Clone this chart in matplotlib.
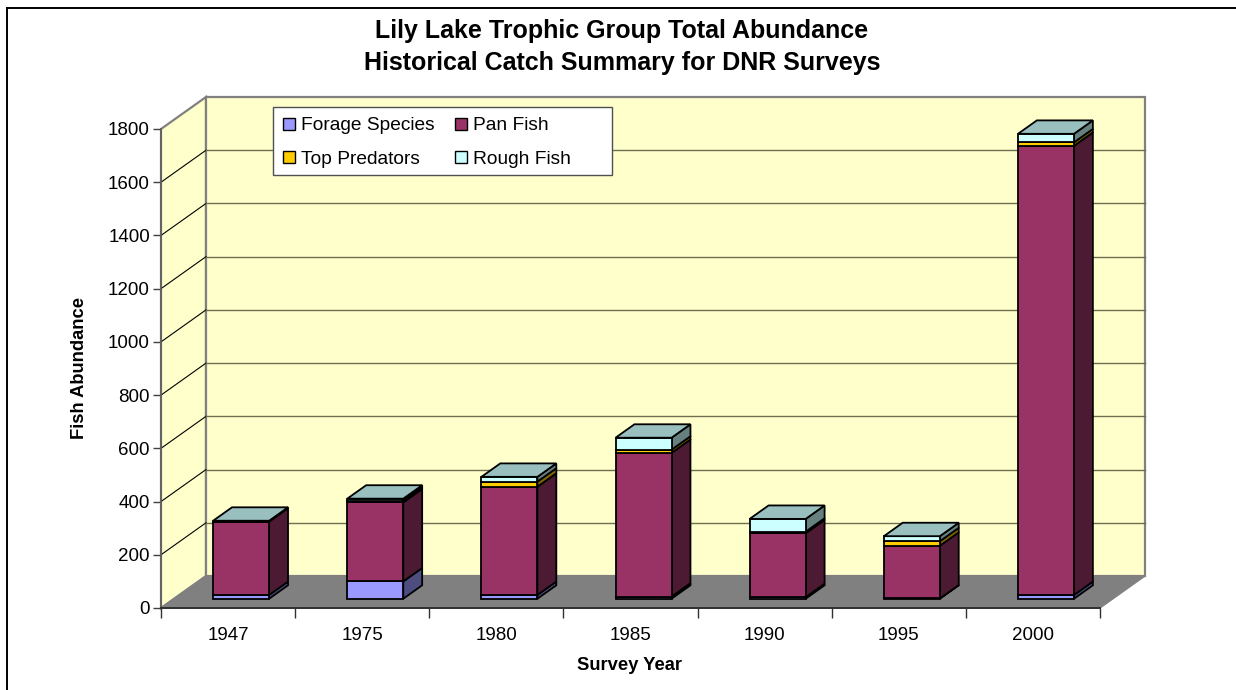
import numpy as np
import matplotlib
matplotlib.use("Agg")
import matplotlib.pyplot as plt
from matplotlib.lines import Line2D
from matplotlib.patches import Patch, Polygon, Rectangle

plt.rcParams["font.family"] = ["Liberation Sans", "DejaVu Sans"]

W, H = 1236, 690

years = ["1947", "1975", "1980", "1985", "1990", "1995", "2000"]
forage = [14, 65, 14, 8, 6, 1, 14]
pan = [276, 297, 407, 540, 240, 198, 1688]
top_pred = [2, 7, 19, 12, 6, 17, 13]
rough = [1, 7, 18, 45, 48, 19, 32]
y_ticks = [0, 200, 400, 600, 800, 1000, 1200, 1400, 1600, 1800]

series = [
    ("Forage Species", forage, "#9999FF"),
    ("Pan Fish", pan, "#993366"),
    ("Top Predators", top_pred, "#FFCC00"),
    ("Rough Fish", rough, "#CCFFFF"),
]

WALL = "#FFFFCC"
FLOOR = "#808080"
EDGE = "#808080"
BAR_W = 56 / 134.14

fig = plt.figure(figsize=(W / 100, H / 100), dpi=100, facecolor="white")
# only the top and left of the chart frame show in the picture
fig.add_artist(Line2D([6.5 / W, 1], [1 - 7.5 / H, 1 - 7.5 / H], color="black", lw=1.4))
fig.add_artist(Line2D([6.5 / W, 6.5 / W], [0, 1 - 7.5 / H], color="black", lw=1.4))

# axes is the front plane of the 3D box
ax = fig.add_axes([161 / W, 1 - 608 / H, (1100 - 161) / W, (608 - 129) / H])
ax.set_xlim(0, len(years))
ax.set_ylim(0, 1800)
ax.patch.set_visible(False)

# depth of the box, in data units
DX = 45 / (939 / 7)
DY = 32 / (479 / 1800)


def proj(x, y, d=0.0):
    return (x + d * DX, y + d * DY)


def face(pts, color, z, lw=1.3, ec="black"):
    ax.add_patch(Polygon(pts, closed=True, facecolor=color, edgecolor=ec, linewidth=lw,
                         clip_on=False, zorder=z, joinstyle="miter"))


def shade(color, f):
    rgb = np.array(matplotlib.colors.to_rgb(color)) * f
    return tuple(rgb)


n = len(years)
face([proj(0, 0), proj(0, 0, 1), proj(0, 1800, 1), proj(0, 1800)], WALL, 1, 1.6, EDGE)
face([proj(0, 0, 1), proj(n, 0, 1), proj(n, 1800, 1), proj(0, 1800, 1)], WALL, 1, 1.6, EDGE)
face([proj(0, 0), proj(n, 0), proj(n, 0, 1), proj(0, 0, 1)], FLOOR, 2, 1, FLOOR)

for t in y_ticks[1:-1]:
    ax.plot(*zip(proj(0, t), proj(0, t, 1)), color="black", lw=0.8, clip_on=False, zorder=3)
    ax.plot(*zip(proj(0, t, 1), proj(n, t, 1)), color="#6E6E50", lw=1.0, clip_on=False, zorder=3)

D0, D1 = 0.29, 0.71
for i in range(n):
    x0 = i + 0.5 - BAR_W / 2
    x1 = i + 0.5 + BAR_W / 2
    base = 0
    z = 5 + i
    for label, vals, color in series:
        top = base + vals[i]
        # side face, then front face
        face([proj(x1, base, D0), proj(x1, base, D1), proj(x1, top, D1), proj(x1, top, D0)],
             shade(color, 0.5), z)
        face([proj(x0, base, D0), proj(x1, base, D0), proj(x1, top, D0), proj(x0, top, D0)],
             color, z)
        base = top
    face([proj(x0, base, D0), proj(x1, base, D0), proj(x1, base, D1), proj(x0, base, D1)],
         shade(series[-1][2], 0.75), z)

for s in ["top", "right"]:
    ax.spines[s].set_visible(False)
ax.spines["left"].set_color("#606060")
ax.spines["left"].set_linewidth(1.3)
ax.spines["bottom"].set_color("#303030")
ax.spines["bottom"].set_linewidth(1.4)
ax.spines["left"].set_zorder(4)
ax.spines["bottom"].set_zorder(4)

ax.set_yticks(y_ticks)
ax.set_xticks(np.arange(n + 1))
ax.set_xticklabels([])
ax.set_xticks(np.arange(n) + 0.5, labels=years, minor=True)
ax.tick_params(axis="x", which="major", length=7.5, width=1.0, color="#303030")
ax.tick_params(axis="x", which="minor", length=0, labelsize=13.5, pad=14)
ax.tick_params(axis="y", length=6, width=1.0, color="#404040", labelsize=13.5, pad=2)

fig.text(622 / W, 1 - 31 / H, "Lily Lake Trophic Group Total Abundance", ha="center", va="center",
         fontsize=18, fontweight="bold")
fig.text(622 / W, 1 - 63 / H, "Historical Catch Summary for DNR Surveys", ha="center", va="center",
         fontsize=18, fontweight="bold")
fig.text(80 / W, 1 - 368 / H, "Fish Abundance", rotation=90, ha="center", va="center",
         fontsize=13.2, fontweight="bold")
fig.text(629.5 / W, 1 - 665 / H, "Survey Year", ha="center", va="center",
         fontsize=13.2, fontweight="bold")

ax.add_patch(Rectangle((273 / W, 1 - 175 / H), 339 / W, 68 / H, transform=fig.transFigure,
                       facecolor="white", edgecolor="#505050", linewidth=1.0,
                       clip_on=False, zorder=29))
handles = [Patch(facecolor=c, edgecolor="black", linewidth=1.0, label=l) for l, _, c in series]
order = [0, 2, 1, 3]
leg = ax.legend([handles[k] for k in order], [series[k][0] for k in order], ncols=2,
                loc="upper left", bbox_to_anchor=(283 / W, 1 - 117.5 / H),
                bbox_transform=fig.transFigure, borderaxespad=0, borderpad=0, fontsize=13.8,
                frameon=False, handlelength=0.62, handleheight=0.62, handletextpad=0.32,
                columnspacing=1.05, labelspacing=0.84)
leg.set_zorder(30)

fig.savefig("out.png", dpi=100)
